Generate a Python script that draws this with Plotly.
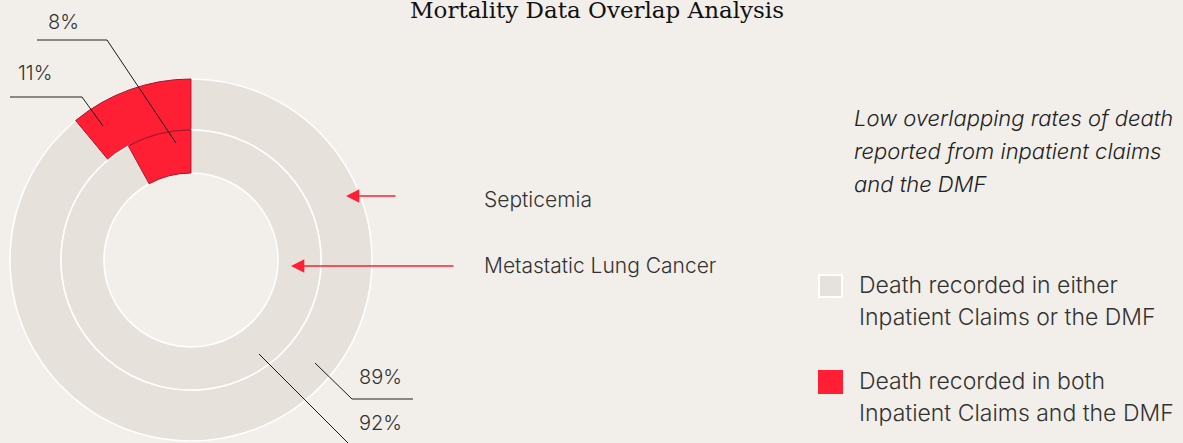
import plotly.graph_objects as go

# data
categories = ["Septicemia", "Metastatic Lung Cancer"]
either_pct = [89, 92]   # death recorded in either source
both_pct = [11, 8]      # death recorded in both sources
slice_names = ["Death recorded in either Inpatient Claims or the DMF",
               "Death recorded in both Inpatient Claims and the DMF"]
note_lines = ["Low overlapping rates of death", "reported from inpatient claims", "and the DMF"]
legend_lines = [["Death recorded in either", "Inpatient Claims or the DMF"],
                ["Death recorded in both", "Inpatient Claims and the DMF"]]

W, H = 1183, 443
BG = "#f2efea"
RED = "#ff1f35"
BEIGE = "#e6e2db"
TXT = "#333333"
SANS = "Inter, Roboto, sans-serif"


def px(x):
    return x / W


def py(y):
    return 1 - y / H


def ring_domain(cx, cy, r):
    return dict(x=[px(cx - r), px(cx + r)], y=[py(cy + r), py(cy - r)])


cx, cy = 191, 260
radii = [(181, 130), (130, 87)]  # outer, inner ring (outer r, hole r)

fig = go.Figure()
for i, cat in enumerate(categories):
    r_out, r_in = radii[i]
    # beige first, clockwise from 12 o'clock -> red ends up just left of the top
    fig.add_trace(go.Pie(
        labels=slice_names,
        values=[either_pct[i], both_pct[i]],
        name=cat,
        hole=r_in / r_out,
        sort=False,
        direction="clockwise",
        rotation=0,
        textinfo="none",
        hoverinfo="label+percent+name",
        marker=dict(colors=[BEIGE, RED],
                    line=dict(color=["#ffffff", "#a3162a"], width=[1.5, 1])),
        domain=ring_domain(cx, cy, r_out),
        showlegend=False,
    ))

shapes = []
annotations = []


def text(t, x, y, size, anchor="left", color=TXT, family=SANS, weight=300, italic=False):
    annotations.append(dict(text=t, x=px(x), y=py(y), xref="paper", yref="paper",
                            showarrow=False, xanchor=anchor, yanchor="middle",
                            font=dict(family=family, size=size, color=color, weight=weight,
                                      style="italic" if italic else "normal")))


def leader(points, label, lx, ly):
    # horizontal part grey, diagonal part black
    for (x0, y0), (x1, y1) in zip(points[:-1], points[1:]):
        horiz = abs(y0 - y1) < 0.5
        shapes.append(dict(type="line", xref="paper", yref="paper",
                           x0=px(x0), y0=py(y0), x1=px(x1), y1=py(y1),
                           line=dict(color="#666666" if horiz else "#1a1a1a",
                                     width=1.5 if horiz else 1)))
    text(label, lx, ly, 20, anchor="center")


# percent labels with leader lines
leader([(10, 97), (82, 97), (103, 126)], f"{both_pct[0]}%", 35, 73)
leader([(37, 40), (107, 40), (176, 143)], f"{both_pct[1]}%", 63, 22)
leader([(315, 363), (352, 399), (413, 399)], f"{either_pct[0]}%", 380, 377)
leader([(259, 354), (348, 443)], f"{either_pct[1]}%", 380, 423)

# ring labels with red arrows
for name, ty, ay_, tip, tail in [(categories[0], 199, 196, 346, 397),
                                 (categories[1], 265, 266, 291, 455)]:
    annotations.append(dict(text="", x=px(tip), y=py(ay_), xref="paper", yref="paper",
                            ax=tail - tip, ay=0, showarrow=True, arrowhead=2,
                            arrowsize=1.9, arrowwidth=1.4, arrowcolor=RED))
    text(name, 482, ty, 21)

# title (cut at the top edge in the original)
text("Mortality Data Overlap Analysis", 597, 10, 23, anchor="center", color="#111111",
     family="DejaVu Serif, Liberation Serif, serif", weight=400)

# italic note
for k, line in enumerate(note_lines):
    text(line, 852, 118 + 33 * k, 22, color="#222222", italic=True)

# legend
legend_colors = [(BEIGE, "#ffffff", 286), (RED, RED, 382)]
for (fill, edge, ly), lines in zip(legend_colors, legend_lines):
    shapes.append(dict(type="rect", xref="paper", yref="paper",
                       x0=px(819), x1=px(842), y0=py(ly + 11), y1=py(ly - 11),
                       fillcolor=fill, line=dict(color=edge, width=2)))
    for k, line in enumerate(lines):
        text(line, 857, ly - 1 + 32 * k, 23)

fig.update_layout(
    width=W, height=H,
    margin=dict(l=0, r=0, t=0, b=0),
    paper_bgcolor=BG, plot_bgcolor=BG,
    shapes=shapes, annotations=annotations,
    showlegend=False,
)

fig.write_html("out.html", config={"displayModeBar": False},
               post_script="document.body.style.margin='0';")
